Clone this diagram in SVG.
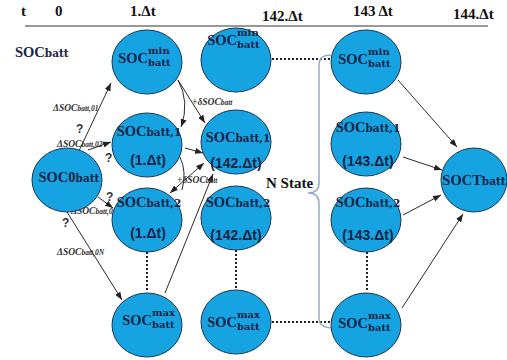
<svg xmlns="http://www.w3.org/2000/svg" width="507" height="360" viewBox="0 0 507 360">
<defs>
<style>
.n{fill:#16a3e2;stroke:#1d3550;stroke-width:1}
.h{font-family:"Liberation Serif",serif;font-weight:bold;font-size:15px;fill:#111}
.s{font-family:"Liberation Serif",serif;font-weight:bold;font-size:14.5px;fill:#1b2444}
.b{font-family:"DejaVu Serif",serif;font-weight:bold;font-size:10.5px;fill:#1b2444}
.m{font-family:"DejaVu Serif",serif;font-weight:bold;font-size:10px;fill:#1b2444}
.t{font-family:"Liberation Sans",sans-serif;font-weight:bold;font-size:14px;fill:#1b2444}
.d{font-family:"Liberation Serif",serif;font-weight:bold;font-style:italic;font-size:9.5px;fill:#333}
.ds{font-size:7.5px}
.q{font-family:"Liberation Sans",sans-serif;font-weight:bold;font-size:12px;fill:#333}
.a{fill:none;stroke:#2a2a2a;stroke-width:1}
.dot{fill:none;stroke:#222;stroke-width:2;stroke-dasharray:2,2}
</style>
<marker id="ah" viewBox="0 0 8 6" refX="8" refY="3" markerWidth="8" markerHeight="6" markerUnits="userSpaceOnUse" orient="auto-start-reverse"><path d="M0,0 L8,3 L0,6 z" fill="#222"/></marker>
</defs>
<rect width="507" height="360" fill="#fff"/>

<g id="header">
<text class="h" x="21" y="16">t</text>
<text class="h" x="55" y="16">0</text>
<text class="h" x="130" y="16">1.Δt</text>
<text class="h" x="262" y="21">142.Δt</text>
<text class="h" x="353" y="16">143 Δt</text>
<text class="h" x="453" y="19">144.Δt</text>
<line x1="25" y1="26" x2="488" y2="26" stroke="#333" stroke-width="1.2"/>
<text class="s" x="15" y="57">SOC<tspan class="b" font-size="10px">batt</tspan></text>
</g>

<g id="connectors">
<path class="a" d="M78,153 L111,83" marker-end="url(#ah)"/>
<path class="a" d="M88,150 L111,142" marker-end="url(#ah)"/>
<path class="a" d="M98,197 L113,208" marker-end="url(#ah)"/>
<path class="a" d="M67,212 L122,300" marker-end="url(#ah)"/>
<path class="a" d="M178,80 Q190,102 181,127" marker-end="url(#ah)"/>
<path class="a" d="M178,80 L205,123" marker-end="url(#ah)"/>
<path class="a" d="M185,148 L203,153" marker-end="url(#ah)"/>
<path class="a" d="M180,157 Q187,172 182,190"/>
<path class="a" d="M170,193 L204,163" marker-start="url(#ah)" marker-end="url(#ah)"/>
<path class="a" d="M165,293 L213,174" marker-end="url(#ah)"/>
<path class="a" d="M398,80 L457,147" marker-end="url(#ah)"/>
<path class="a" d="M403,157 L442,170" marker-end="url(#ah)"/>
<path class="a" d="M403,215 L441,195" marker-end="url(#ah)"/>
<path class="a" d="M402,308 L463,214" marker-end="url(#ah)"/>
<path class="dot" d="M147,252 L147,292"/>
<path class="dot" d="M236,250 L236,290"/>
<path class="dot" d="M367,252 L367,292"/>
<path class="dot" d="M272,59 L332,59"/>
<path class="dot" d="M272,322 L333,322"/>
<path d="M331,55 Q319,55 319,65 L319,183 Q319,193 308,193 Q319,193 319,203 L319,318 Q319,328 333,328" fill="none" stroke="#93abc9" stroke-width="1.5"/>
<text class="d" x="53" y="111">ΔSOC<tspan class="ds">batt,01</tspan></text>
<text class="q" x="76" y="133">?</text>
<text class="d" x="57" y="147">ΔSOC<tspan class="ds">batt,02</tspan></text>
<text class="q" x="105" y="162">?</text>
<text class="q" x="106" y="201">?</text>
<text class="d" x="71" y="214">ΔSOC<tspan class="ds">batt,03</tspan></text>
<text class="q" x="62" y="227">?</text>
<text class="d" x="57" y="255">ΔSOC<tspan class="ds">batt,0N</tspan></text>
<text class="d" x="192" y="105">+δSOC<tspan class="ds">batt</tspan></text>
<text class="d" x="177" y="183">+δSOC<tspan class="ds">batt</tspan></text>
<text class="h" x="266" y="188">N State</text>
</g>

<g id="soc0">
<ellipse class="n" cx="67" cy="180" rx="35" ry="32"/>
<text class="s" x="69" y="182" text-anchor="middle">SOC0<tspan class="b" font-size="11.5px">batt</tspan></text>
</g>

<g id="c1min">
<ellipse class="n" cx="147" cy="62" rx="35" ry="32"/>
<text class="s" x="148" y="63" text-anchor="end">SOC</text>
<text class="m" x="148" y="54">min</text>
<text class="m" x="148" y="66">batt</text>
</g>
<g id="c1b1">
<ellipse class="n" cx="147" cy="145" rx="35" ry="32"/>
<text class="s" x="149" y="136" text-anchor="middle">SOC<tspan class="b">batt,1</tspan></text>
<text class="t" x="148" y="165" text-anchor="middle">(1.Δt)</text>
</g>
<g id="c1b2">
<ellipse class="n" cx="147" cy="220" rx="35" ry="32"/>
<text class="s" x="149" y="207" text-anchor="middle">SOC<tspan class="b">batt,2</tspan></text>
<text class="t" x="148" y="238" text-anchor="middle">(1.Δt)</text>
</g>
<g id="c1max">
<ellipse class="n" cx="147" cy="325" rx="35" ry="32"/>
<text class="s" x="152" y="325" text-anchor="end">SOC</text>
<text class="m" x="152" y="316">max</text>
<text class="m" x="152" y="328">batt</text>
</g>

<g id="c2min">
<ellipse class="n" cx="236" cy="60" rx="35" ry="32"/>
<text class="s" x="237" y="45" text-anchor="end">SOC</text>
<text class="m" x="237" y="36">min</text>
<text class="m" x="237" y="48">batt</text>
</g>
<g id="c2b1">
<ellipse class="n" cx="236" cy="142" rx="35" ry="32"/>
<text class="s" x="238" y="142" text-anchor="middle">SOC<tspan class="b">batt,1</tspan></text>
<text class="t" x="236" y="168" text-anchor="middle">(142.Δt)</text>
</g>
<g id="c2b2">
<ellipse class="n" cx="236" cy="218" rx="35" ry="32"/>
<text class="s" x="238" y="207" text-anchor="middle">SOC<tspan class="b">batt,2</tspan></text>
<text class="t" x="236" y="240" text-anchor="middle">(142.Δt)</text>
</g>
<g id="c2max">
<ellipse class="n" cx="236" cy="322" rx="35" ry="32"/>
<text class="s" x="237" y="327" text-anchor="end">SOC</text>
<text class="m" x="237" y="318">max</text>
<text class="m" x="237" y="330">batt</text>
</g>

<g id="c3min">
<ellipse class="n" cx="366" cy="62" rx="35" ry="32"/>
<text class="s" x="368" y="64" text-anchor="end">SOC</text>
<text class="m" x="368" y="55">min</text>
<text class="m" x="368" y="67">batt</text>
</g>
<g id="c3b1">
<ellipse class="n" cx="366" cy="144" rx="35" ry="32"/>
<text class="s" x="368" y="132" text-anchor="middle">SOC<tspan class="b">batt,1</tspan></text>
<text class="t" x="368" y="166" text-anchor="middle">(143.Δt)</text>
</g>
<g id="c3b2">
<ellipse class="n" cx="366" cy="220" rx="35" ry="32"/>
<text class="s" x="368" y="207" text-anchor="middle">SOC<tspan class="b">batt,2</tspan></text>
<text class="t" x="368" y="240" text-anchor="middle">(143.Δt)</text>
</g>
<g id="c3max">
<ellipse class="n" cx="366" cy="325" rx="35" ry="32"/>
<text class="s" x="368" y="328" text-anchor="end">SOC</text>
<text class="m" x="368" y="319">max</text>
<text class="m" x="368" y="331">batt</text>
</g>

<g id="soct">
<ellipse class="n" cx="474" cy="180" rx="33" ry="32"/>
<text class="s" x="474" y="185" text-anchor="middle" font-size="13px">SOCT<tspan class="b" font-size="11px">batt</tspan></text>
</g>
</svg>
